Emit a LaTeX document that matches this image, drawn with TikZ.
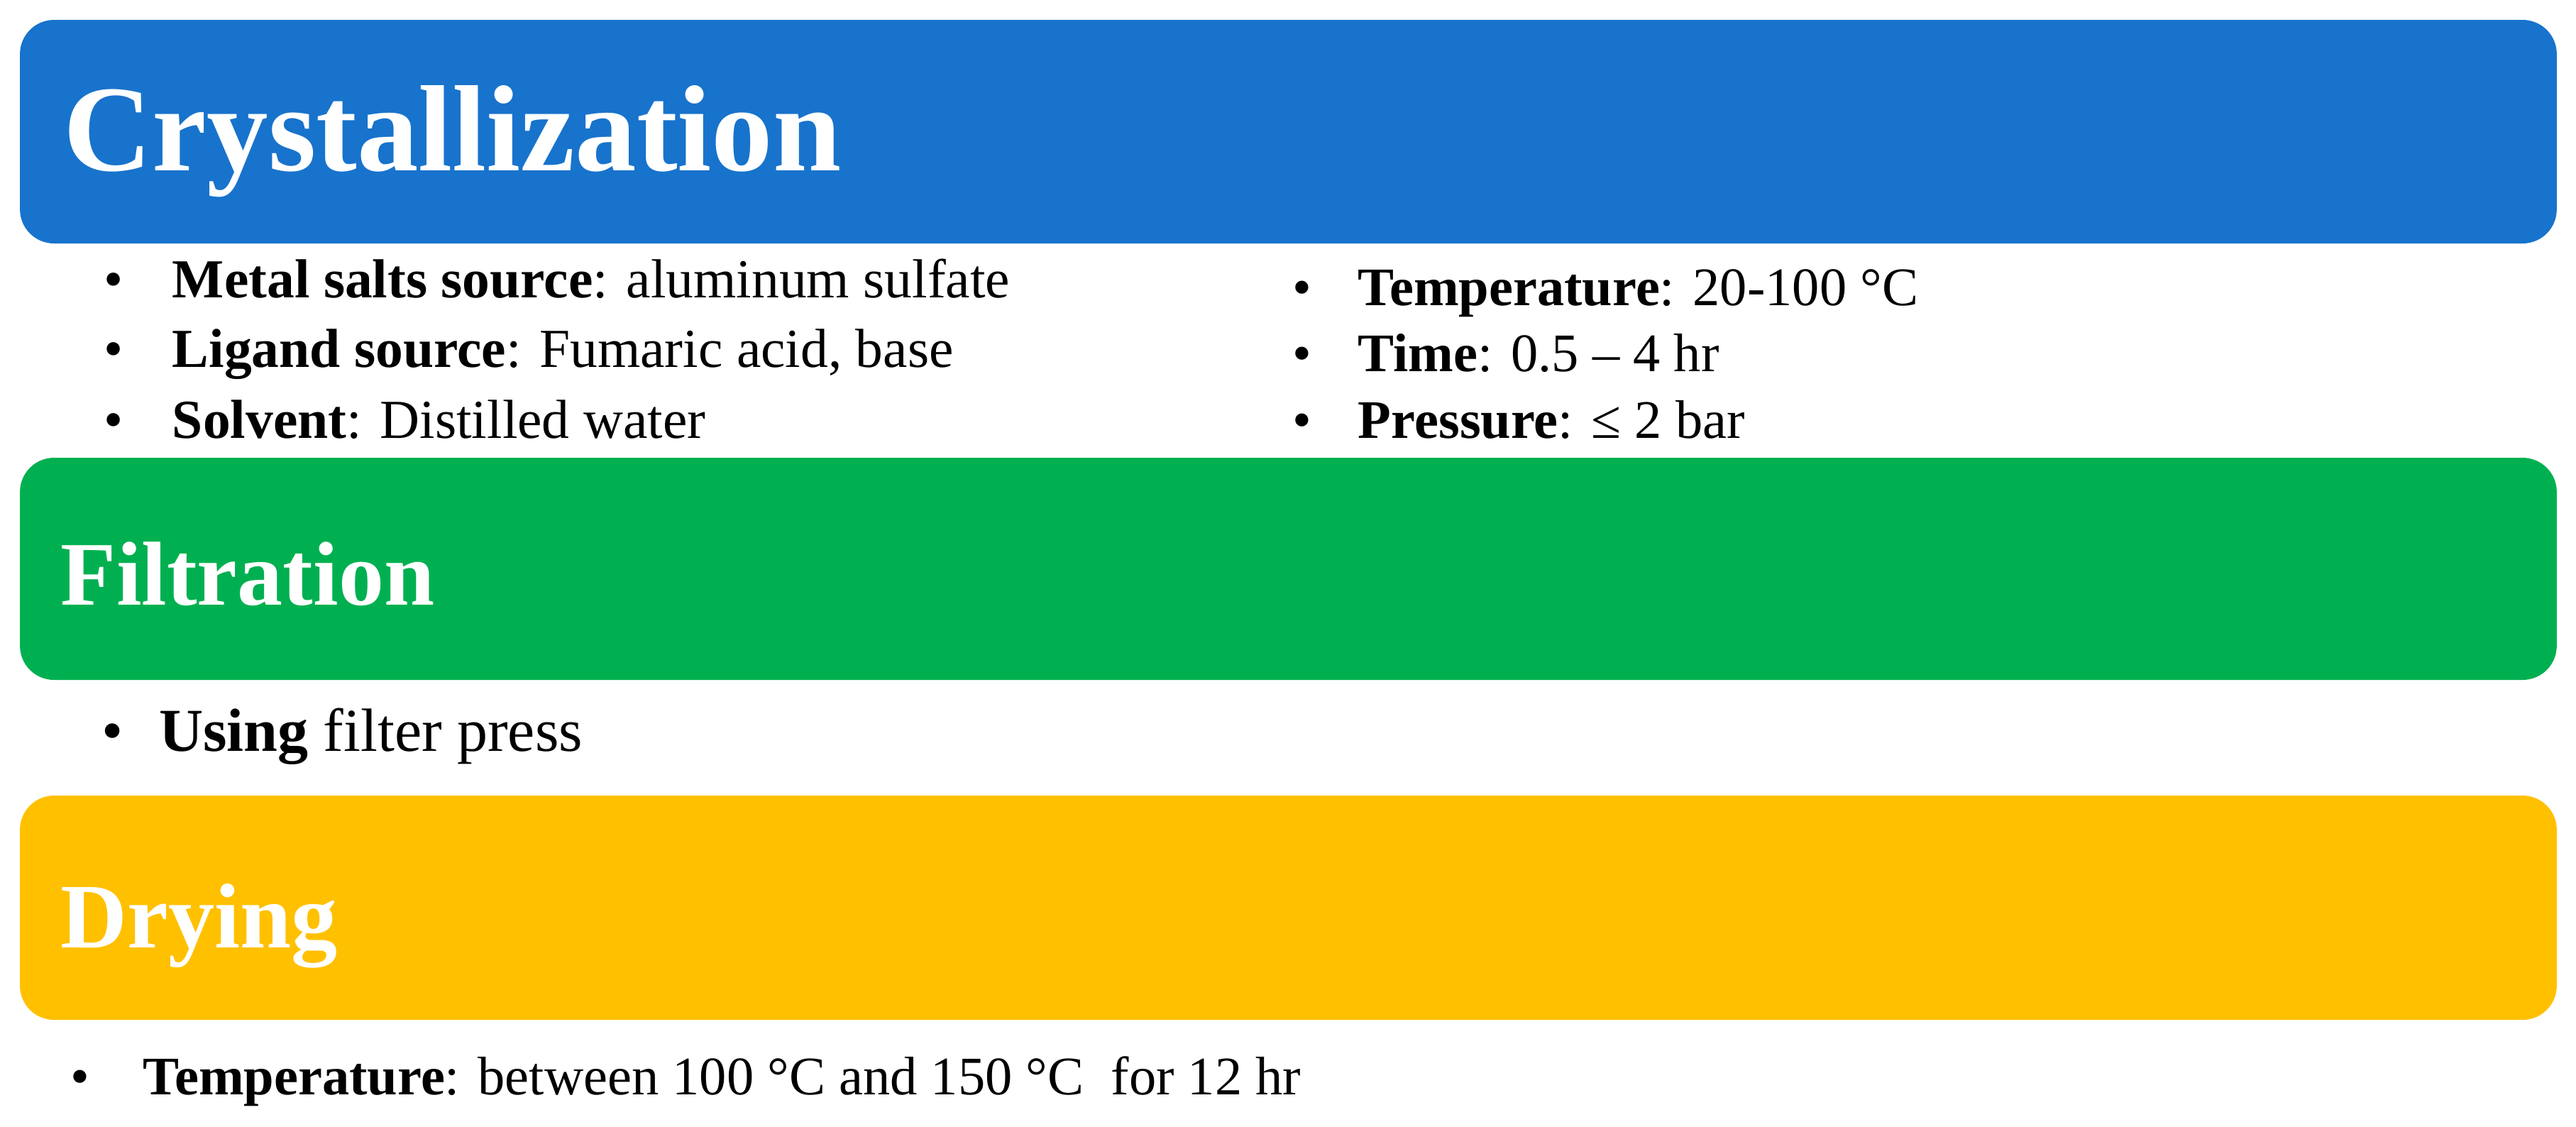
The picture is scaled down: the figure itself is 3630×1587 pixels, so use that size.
\documentclass[tikz,border=0pt]{standalone}
\usepackage{fontspec}
\setmainfont{Liberation Serif}
\definecolor{cblue}{RGB}{24,115,204}
\definecolor{cgreen}{RGB}{0,176,80}
\definecolor{cyellow}{RGB}{255,192,0}
\newcommand\mybul[1]{\makebox[#1][l]{\textbullet}}
\begin{document}
\begin{tikzpicture}[x=0.1pt,y=-0.1pt,
  band/.style={rectangle, rounded corners=4.8pt, inner sep=0pt, outer sep=0pt, minimum width=357.5pt},
  title/.style={anchor=base west, inner sep=0pt, text=white},
  item/.style={anchor=base west, inner sep=0pt}]
\useasboundingbox[fill=white] (0,0) rectangle (3630,1587);
% bands
\node[band, fill=cblue, minimum height=31.5pt] (crys) at (1815.5,185.5) {};
\node[band, fill=cgreen, minimum height=31.3pt] (filt) at (1815.5,801.5) {};
\node[band, fill=cyellow, minimum height=31.6pt] (dry) at (1815.5,1279) {};
% titles
\node[title, font=\bfseries\fontsize{17.3}{20}\selectfont] (crysT) at (88,240) {Crystallization};
\node[title, font=\bfseries\fontsize{12.8}{15}\selectfont] (filtT) at (84,852) {Filtration};
\node[title, font=\bfseries\fontsize{13}{15}\selectfont] (dryT) at (84,1335) {Drying};
% crystallization items
\begin{scope}[every node/.append style={item, font=\fontsize{7.75}{9}\selectfont}]
\node (c1) at (145,419) {\mybul{9.6pt}\textbf{Metal salts source}: aluminum sulfate};
\node (c2) at (145,517) {\mybul{9.6pt}\textbf{Ligand source}: Fumaric acid, base};
\node (c3) at (145,617) {\mybul{9.6pt}\textbf{Solvent}: Distilled water};
\end{scope}
\begin{scope}[every node/.append style={item, font=\fontsize{7.65}{9}\selectfont}]
\node (c4) at (1819,430) {\mybul{9.3pt}\textbf{Temperature}: 20-100 °C};
\node (c5) at (1819,523) {\mybul{9.3pt}\textbf{Time}: 0.5 – 4 hr};
\node (c6) at (1819,617) {\mybul{9.3pt}\textbf{Pressure}: ≤ 2 bar};
\end{scope}
\node[item, font=\fontsize{8.6}{10}\selectfont] (f1) at (141,1058) {\mybul{8.1pt}\textbf{Using} filter press};
\node[item, font=\fontsize{7.65}{9}\selectfont] (d1) at (98,1542) {\mybul{10.2pt}\textbf{Temperature}: between 100 °C and 150 °C\ \ for 12 hr};
\end{tikzpicture}
\end{document}
